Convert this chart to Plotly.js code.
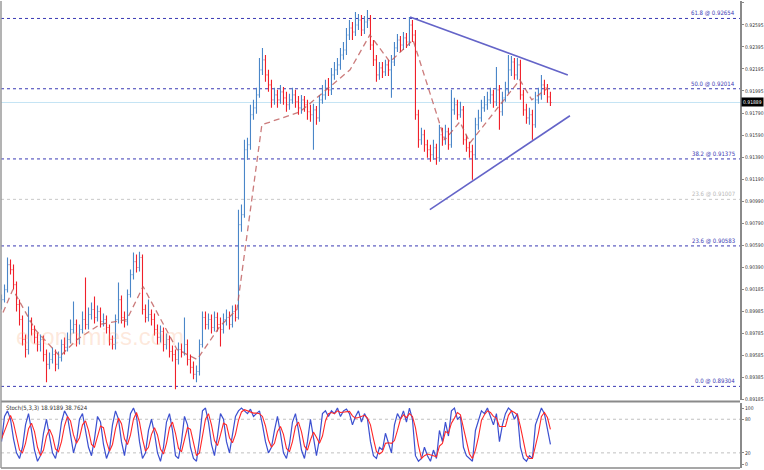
<!DOCTYPE html>
<html><head><meta charset="utf-8">
<script src="https://cdn.plot.ly/plotly-3.0.1.min.js"></script>
<style>html,body{margin:0;padding:0;background:#fff}#chart{width:764px;height:470px}</style>
</head><body><div id="chart"></div>
<script>
// ---------- DATA ----------
const firstOpen = 0.90050;
const closes = [
0.90094,0.90185,0.90413,0.90367,0.90231,0.90049,0.89913,0.89731,0.89640,0.89895,
0.89822,0.89750,0.89686,0.89731,0.89595,0.89504,0.89549,0.89595,0.89504,0.89568,
0.89686,0.89659,0.89731,0.89822,0.89868,0.89731,0.89822,0.89913,0.89868,0.89959,
0.90004,0.89931,0.89986,0.89895,0.89913,0.89840,0.89731,0.89686,0.89913,0.90094,
0.89931,0.89895,0.90140,0.90322,0.90440,0.90386,0.90477,0.90004,0.89931,0.89959,
0.89913,0.89822,0.89750,0.89804,0.89686,0.89731,0.89622,0.89595,0.89549,0.89640,
0.89622,0.89686,0.89549,0.89477,0.89413,0.89440,0.89686,0.89931,0.89868,0.89913,
0.89840,0.89931,0.89868,0.89822,0.89913,0.89931,0.89868,0.89986,0.89931,0.90777,
0.90868,0.91458,0.91504,0.91777,0.91840,0.91958,0.92186,0.92277,0.92140,0.92049,
0.91913,0.91958,0.91913,0.91986,0.91931,0.91868,0.91913,0.91958,0.91895,0.91840,
0.91913,0.91868,0.91804,0.91777,0.91822,0.91749,0.91913,0.91958,0.92022,0.92004,
0.92140,0.92186,0.92231,0.92322,0.92367,0.92504,0.92567,0.92531,0.92595,0.92640,
0.92549,0.92622,0.92640,0.92413,0.92277,0.92140,0.92204,0.92168,0.92231,0.92186,
0.92258,0.92386,0.92458,0.92413,0.92477,0.92440,0.92595,0.92504,0.91777,0.91549,
0.91595,0.91504,0.91458,0.91413,0.91477,0.91386,0.91595,0.91549,0.91622,0.91504,
0.91822,0.91868,0.91777,0.91822,0.91549,0.91477,0.91440,0.91413,0.91686,0.91749,
0.91840,0.91868,0.91913,0.91958,0.91895,0.92004,0.91804,0.91931,0.92004,0.92186,
0.92258,0.92140,0.92231,0.91958,0.91822,0.91749,0.91777,0.91686,0.91913,0.91958,
0.92049,0.92022,0.91940,0.91889];
const highs = [
0.90140,0.90231,0.90477,0.90459,0.90413,0.90259,0.90095,0.89950,0.89777,0.90031,
0.89931,0.89859,0.89795,0.89777,0.89768,0.89640,0.89613,0.89659,0.89640,0.89622,
0.89731,0.89750,0.89795,0.89913,0.90077,0.89913,0.89868,0.89986,0.90295,0.90022,
0.90068,0.90122,0.90040,0.90022,0.89968,0.89950,0.89868,0.89768,0.89959,0.90250,
0.90131,0.89986,0.90186,0.90368,0.90522,0.90504,0.90531,0.90504,0.90050,0.90095,
0.90004,0.89968,0.89868,0.89859,0.89840,0.89786,0.89768,0.89677,0.89640,0.89704,
0.89695,0.89931,0.89731,0.89595,0.89531,0.89495,0.89731,0.89986,0.89986,0.89968,
0.89959,0.89986,0.89977,0.89931,0.89968,0.90004,0.89986,0.90040,0.90050,0.90913,
0.90959,0.91549,0.91568,0.91868,0.91913,0.92022,0.92295,0.92386,0.92322,0.92186,
0.92095,0.92022,0.92004,0.92049,0.92031,0.91986,0.91968,0.92022,0.92004,0.91949,
0.91958,0.91949,0.91913,0.91868,0.91877,0.91858,0.91958,0.92049,0.92095,0.92113,
0.92204,0.92258,0.92295,0.92386,0.92440,0.92567,0.92640,0.92622,0.92713,0.92695,
0.92686,0.92677,0.92731,0.92686,0.92458,0.92322,0.92258,0.92258,0.92277,0.92277,
0.92322,0.92440,0.92513,0.92495,0.92531,0.92522,0.92667,0.92640,0.92549,0.91822,
0.91658,0.91640,0.91549,0.91504,0.91549,0.91513,0.91686,0.91658,0.91686,0.91658,
0.92004,0.91931,0.91913,0.91895,0.91858,0.91595,0.91531,0.91504,0.91749,0.91822,
0.91913,0.91949,0.91986,0.92022,0.92004,0.92213,0.92049,0.91986,0.92077,0.92322,
0.92313,0.92295,0.92295,0.92277,0.92004,0.91877,0.91840,0.91822,0.91986,0.92022,
0.92140,0.92095,0.92058,0.91986];
const lows = [
0.90004,0.90068,0.90159,0.90322,0.90186,0.89986,0.89859,0.89677,0.89568,0.89595,
0.89768,0.89695,0.89622,0.89622,0.89531,0.89341,0.89459,0.89513,0.89441,0.89459,
0.89531,0.89595,0.89622,0.89695,0.89786,0.89668,0.89686,0.89786,0.89822,0.89822,
0.89913,0.89877,0.89895,0.89840,0.89850,0.89786,0.89677,0.89640,0.89640,0.89877,
0.89877,0.89840,0.89859,0.90113,0.90277,0.90340,0.90350,0.89959,0.89886,0.89895,
0.89859,0.89768,0.89686,0.89704,0.89622,0.89640,0.89568,0.89531,0.89277,0.89504,
0.89568,0.89586,0.89495,0.89422,0.89368,0.89341,0.89404,0.89659,0.89822,0.89822,
0.89786,0.89804,0.89804,0.89668,0.89786,0.89859,0.89822,0.89840,0.89895,0.89913,
0.90713,0.90840,0.91368,0.91458,0.91731,0.91786,0.91931,0.92140,0.92077,0.91986,
0.91840,0.91868,0.91840,0.91877,0.91868,0.91804,0.91822,0.91877,0.91840,0.91777,
0.91786,0.91804,0.91731,0.91713,0.91458,0.91686,0.91713,0.91877,0.91913,0.91949,
0.91958,0.92095,0.92140,0.92186,0.92277,0.92322,0.92458,0.92458,0.92495,0.92549,
0.92495,0.92513,0.92567,0.92367,0.92222,0.92077,0.92095,0.92113,0.92131,0.92131,
0.91931,0.92222,0.92349,0.92349,0.92367,0.92386,0.92404,0.92440,0.91731,0.91477,
0.91504,0.91440,0.91386,0.91349,0.91368,0.91322,0.91349,0.91495,0.91504,0.91458,
0.91477,0.91777,0.91731,0.91749,0.91504,0.91440,0.91386,0.91186,0.91368,0.91640,
0.91713,0.91804,0.91822,0.91877,0.91840,0.91858,0.91640,0.91768,0.91895,0.91968,
0.92131,0.92095,0.92095,0.91913,0.91768,0.91695,0.91686,0.91549,0.91658,0.91877,
0.91913,0.91958,0.91886,0.91858];

const stochK = [
40,85,95,80,45,20,10,30,70,90,
60,25,5,15,55,80,50,20,10,35,
75,95,85,50,20,40,80,90,60,30,
15,45,85,75,35,10,25,70,95,80,
40,15,50,90,100,85,40,10,20,60,
80,55,20,5,30,75,90,60,15,10,
40,85,70,30,10,5,45,95,100,75,
35,15,50,90,80,40,20,55,85,95,
100,95,90,98,85,90,95,70,40,20,
30,60,85,55,20,10,35,75,90,60,
25,10,40,80,50,15,45,90,95,85,
95,90,100,85,95,98,90,70,85,95,
75,90,80,40,15,10,30,25,55,35,
20,70,90,80,95,75,100,80,15,5,
10,30,15,5,25,10,60,40,75,50,
95,100,80,85,30,15,10,5,60,80,
95,90,100,85,70,90,40,70,90,100,
95,80,90,30,10,5,15,10,70,85,
100,90,60,35];
const stochD = [
45,60,73,87,73,48,25,20,37,63,
73,58,30,15,25,50,62,50,27,22,
40,68,85,77,52,37,47,70,77,60,
35,30,48,68,65,40,23,35,63,82,
72,45,35,52,80,92,75,45,23,30,
53,65,52,27,18,37,65,75,55,28,
22,45,65,62,37,15,20,48,80,90,
70,42,33,52,73,70,47,38,53,78,
93,97,95,94,91,91,90,85,68,43,
30,37,58,67,53,28,22,40,67,75,
58,32,25,43,57,48,37,50,77,90,
92,90,95,92,93,93,94,86,82,83,
85,87,82,70,45,22,18,22,37,38,
37,42,60,80,88,83,90,85,65,33,
10,15,18,17,15,13,32,37,58,55,
73,82,92,88,65,43,18,10,25,48,
78,88,95,92,85,82,67,67,67,87,
95,92,88,67,43,15,10,10,32,55,
85,92,83,62];
const stochLevels = [80, 20];
const stochLabel = 'Stoch(5,3,3) 18.9189 38.7624';

const zigIdx = [0.5,3.8,11.2,19.5,25.2,32.8,41.8,47.2,58.5,65.2,72.8,78.5,86.8,99.5,116.2,122.8,129.5,137.2,147.8,152.8,156.2,166.2,172.8,176.8,182.2];
const zigPrice = [0.89977,0.90186,0.89822,0.89577,0.89731,0.89868,0.89913,0.90213,0.89640,0.89549,0.89850,0.90004,0.91686,0.91804,0.92186,0.92504,0.92258,0.92458,0.91549,0.91713,0.91522,0.91868,0.92095,0.91913,0.92022];

const triUpperIdx = [136.2, 188.8], triUpperPrice = [0.92667, 0.92140];
const triLowerIdx = [142.8, 189.5], triLowerPrice = [0.90913, 0.91768];

const fibPct = ['61.8','50.0','38.2','23.6','0.0'];
const fibPrice = [0.92654,0.92014,0.91375,0.90583,0.89304];
const auxFibPct = ['23.6'];
const auxFibPrice = [0.91007];
const lastPrice = 0.91889;

const tickText = ['0.92795','0.92595','0.92395','0.92195','0.91995','0.91790','0.91590','0.91390','0.91190','0.90990','0.90790','0.90590','0.90390','0.90185','0.89985','0.89785','0.89585','0.89385','0.89185'];
const stochTicks = [0,20,80,100];
const watermark = 'economies.com';

// ---------- BUILD ----------
const narrow = '"Liberation Sans Narrow", "DejaVu Sans Condensed", "Liberation Sans", sans-serif';
const idx = closes.map((_, i) => i);
const opens = [firstOpen].concat(closes.slice(0, -1));

const traces = [
  {type:'ohlc', x:idx, open:opens, high:highs, low:lows, close:closes, xaxis:'x', yaxis:'y',
   increasing:{line:{color:'#4a86c8', width:1.1}}, decreasing:{line:{color:'#f0202a', width:1.1}},
   tickwidth:0.3, hoverinfo:'skip'},
  {type:'scatter', mode:'lines', x:zigIdx, y:zigPrice, xaxis:'x', yaxis:'y',
   line:{color:'rgba(190,90,90,0.8)', width:1.3, dash:'6px,4px'}, hoverinfo:'skip'},
  {type:'scatter', mode:'lines', x:triUpperIdx, y:triUpperPrice, xaxis:'x', yaxis:'y',
   line:{color:'#6464c8', width:1.6}, hoverinfo:'skip'},
  {type:'scatter', mode:'lines', x:triLowerIdx, y:triLowerPrice, xaxis:'x', yaxis:'y',
   line:{color:'#6464c8', width:1.6}, hoverinfo:'skip'},
  {type:'scatter', mode:'lines', x:idx, y:stochK, xaxis:'x', yaxis:'y2',
   line:{color:'#3c50d0', width:1.2}, hoverinfo:'skip'},
  {type:'scatter', mode:'lines', x:idx, y:stochD, xaxis:'x', yaxis:'y2',
   line:{color:'#ff2828', width:1.1}, hoverinfo:'skip'}
];

const mainBottom = 0.1456;
const shapes = [];
const annotations = [];
fibPrice.forEach((p, k) => {
  shapes.push({type:'line', xref:'paper', x0:0, x1:1, yref:'y', y0:p, y1:p, layer:'below',
    line:{color:'#3a3ab4', width:1, dash:'dot'}});
  annotations.push({xref:'paper', x:0.9946, xanchor:'right', yref:'y', y:p, yanchor:'bottom',
    text:fibPct[k] + ' @ ' + p.toFixed(5), showarrow:false, font:{size:6, color:'#3a3ab4', family:narrow}, borderpad:0});
});
auxFibPrice.forEach((p, k) => {
  shapes.push({type:'line', xref:'paper', x0:0, x1:1, yref:'y', y0:p, y1:p, layer:'below',
    line:{color:'#c8c8c8', width:1, dash:'dot'}});
  annotations.push({xref:'paper', x:0.9946, xanchor:'right', yref:'y', y:p, yanchor:'bottom',
    text:auxFibPct[k] + ' @ ' + p.toFixed(5), showarrow:false, font:{size:6, color:'#b8b8b8', family:narrow}, borderpad:0});
});
shapes.push({type:'line', xref:'paper', x0:0, x1:1, yref:'y', y0:lastPrice, y1:lastPrice, layer:'below',
  line:{color:'#c4e4f4', width:1}});
stochLevels.forEach(v => shapes.push({type:'line', xref:'paper', x0:0, x1:1, yref:'y2', y0:v, y1:v, layer:'below',
  line:{color:'#c0c0c0', width:1, dash:'dot'}}));
// frame lines
shapes.push({type:'line', xref:'paper', yref:'paper', x0:0, x1:1, y0:mainBottom - 0.003, y1:mainBottom - 0.003, line:{color:'#8a8a8a', width:2}});
shapes.push({type:'line', xref:'paper', yref:'paper', x0:0, x1:1, y0:0, y1:0, line:{color:'#8a8a8a', width:1.5}});
shapes.push({type:'line', xref:'paper', yref:'paper', x0:0, x1:0, y0:0, y1:1, line:{color:'#9a9a9a', width:1.5}});

annotations.push({xref:'paper', x:1, xanchor:'left', xshift:1, yref:'y', y:lastPrice, yanchor:'middle',
  text:lastPrice.toFixed(5), showarrow:false, bgcolor:'#000', font:{size:5, color:'#fff', family:narrow}, borderpad:1});
annotations.push({xref:'paper', x:0.004, xanchor:'left', yref:'y2', y:101, yanchor:'middle',
  text:stochLabel, showarrow:false, font:{size:6, color:'#333', family:narrow}});
annotations.push({xref:'paper', x:0.134, xanchor:'center', yref:'y', y:0.89759, yanchor:'middle',
  text:watermark, showarrow:false, font:{size:24, color:'rgba(250,165,115,0.25)', family:'Liberation Sans, Arial, sans-serif'}});

const layout = {
  width:764, height:470,
  margin:{l:1, r:24, t:1, b:2},
  paper_bgcolor:'#ffffff', plot_bgcolor:'#ffffff',
  showlegend:false,
  font:{family:narrow, size:6, color:'#222'},
  xaxis:{range:[-0.17, 246.2], anchor:'y2', showgrid:false, zeroline:false, showticklabels:false,
    ticks:'', showline:false, rangeslider:{visible:false}, fixedrange:true},
  yaxis:{domain:[mainBottom, 1], range:[0.89180, 0.92813], side:'right', anchor:'x',
    tickvals:tickText.map(Number), ticktext:tickText, ticks:'outside', ticklen:2, tickcolor:'#888',
    showgrid:false, zeroline:false, showline:true, linecolor:'#8a8a8a', linewidth:2,
    tickfont:{size:5, color:'#333', family:narrow}, fixedrange:true},
  yaxis2:{domain:[0, 0.1392], range:[-7, 109], side:'right', anchor:'x',
    tickvals:stochTicks, ticktext:stochTicks.map(String), ticks:'outside', ticklen:2, tickcolor:'#888',
    showgrid:false, zeroline:false, showline:true, linecolor:'#8a8a8a', linewidth:2,
    tickfont:{size:5, color:'#333', family:narrow}, fixedrange:true},
  shapes:shapes, annotations:annotations
};

Plotly.newPlot('chart', traces, layout, {displayModeBar:false, staticPlot:true});
</script></body></html>
